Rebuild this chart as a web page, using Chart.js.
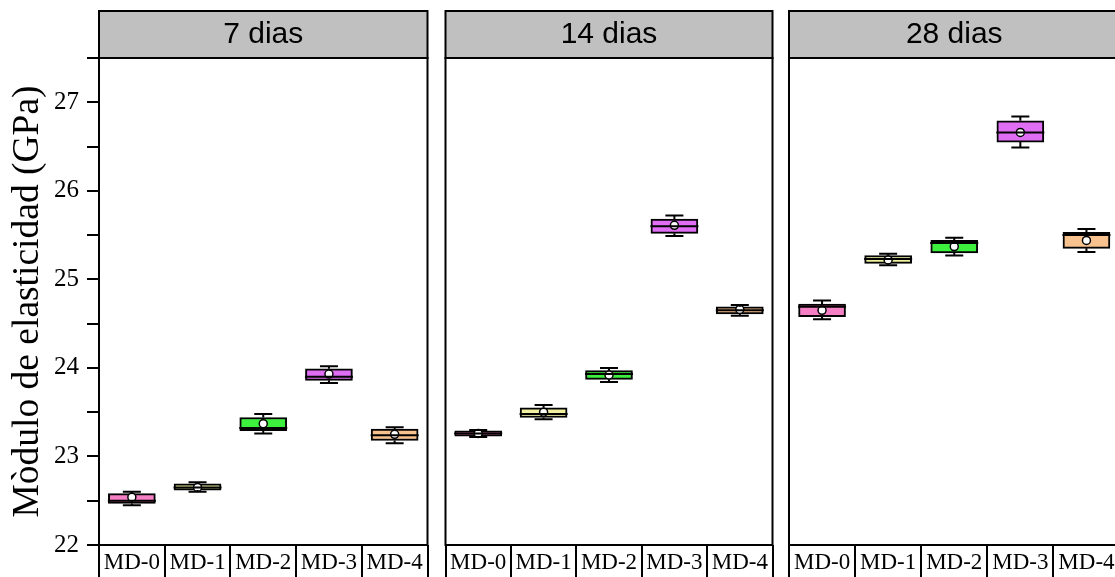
<!DOCTYPE html>
<html>
<head>
<meta charset="utf-8">
<script src="https://cdn.jsdelivr.net/npm/chart.js@4/dist/chart.umd.min.js"></script>
<style>
  html, body { margin: 0; padding: 0; background: #fff; overflow: hidden; width: 1115px; height: 577px; }
  canvas { position: absolute; top: 0; }
</style>
</head>
<body>
<canvas id="c0" width="433" height="577" style="left:0px"></canvas>
<canvas id="c1" width="338" height="577" style="left:440px"></canvas>
<canvas id="c2" width="345" height="577" style="left:780px"></canvas>
<script>
// Mixes and curing ages
const categories = ['MD-0', 'MD-1', 'MD-2', 'MD-3', 'MD-4'];
const panelTitles = ['7 dias', '14 dias', '28 dias'];
const boxColors = ['#f47fc4', '#f0f0a0', '#3ef03e', '#e06ef5', '#f8c28e'];

// Box statistics per age (GPa): one row per age, one value per mix
const whiskerLow = [
  [22.45, 22.60, 23.26, 23.83, 23.15],
  [23.22, 23.42, 23.84, 25.49, 24.59],
  [24.55, 25.16, 25.27, 26.49, 25.31]
];
const quartile1 = [
  [22.47, 22.62, 23.29, 23.86, 23.18],
  [23.23, 23.44, 23.87, 25.52, 24.61],
  [24.58, 25.18, 25.30, 26.55, 25.35]
];
const medians = [
  [22.50, 22.65, 23.32, 23.90, 23.24],
  [23.26, 23.48, 23.93, 25.60, 24.65],
  [24.69, 25.23, 25.41, 26.66, 25.50]
];
const quartile3 = [
  [22.58, 22.69, 23.44, 23.99, 23.31],
  [23.29, 23.55, 23.97, 25.68, 24.69],
  [24.72, 25.27, 25.44, 26.79, 25.53]
];
const whiskerHigh = [
  [22.60, 22.71, 23.48, 24.02, 23.33],
  [23.30, 23.58, 24.00, 25.72, 24.71],
  [24.76, 25.29, 25.47, 26.84, 25.57]
];
const means = [
  [22.54, 22.65, 23.37, 23.93, 23.25],
  [23.26, 23.50, 23.92, 25.61, 24.66],
  [24.65, 25.22, 25.37, 26.66, 25.44]
];

const serif = 'Liberation Serif';
const sans = 'Liberation Sans';
const CAP_HALF = 9;
const BOX_HALF = 24;

// Whiskers, medians, frame and the grey strip with the age title
const boxDecor = {
  id: 'boxDecor',
  afterDatasetsDraw(chart, args, opts) {
    const { ctx, scales: { x, y } } = chart;
    const p = opts.panel;
    ctx.save();
    ctx.strokeStyle = '#000';
    ctx.lineWidth = 2;
    categories.forEach((c, i) => {
      const cx = x.getPixelForValue(i);
      const yLo = y.getPixelForValue(whiskerLow[p][i]);
      const yQ1 = y.getPixelForValue(quartile1[p][i]);
      const yQ3 = y.getPixelForValue(quartile3[p][i]);
      const yHi = y.getPixelForValue(whiskerHigh[p][i]);
      const yMed = y.getPixelForValue(medians[p][i]);
      ctx.beginPath();
      ctx.moveTo(cx, yQ3); ctx.lineTo(cx, yHi);
      ctx.moveTo(cx - CAP_HALF, yHi); ctx.lineTo(cx + CAP_HALF, yHi);
      ctx.moveTo(cx, yQ1); ctx.lineTo(cx, yLo);
      ctx.moveTo(cx - CAP_HALF, yLo); ctx.lineTo(cx + CAP_HALF, yLo);
      ctx.moveTo(cx - BOX_HALF, yMed); ctx.lineTo(cx + BOX_HALF, yMed);
      ctx.stroke();
    });
    ctx.restore();
  },
  afterDraw(chart, args, opts) {
    const { ctx, chartArea: a } = chart;
    ctx.save();
    ctx.strokeStyle = '#000';
    ctx.lineWidth = 2;
    ctx.strokeRect(a.left, a.top, a.right - a.left, a.bottom - a.top);
    ctx.fillStyle = '#c0c0c0';
    ctx.fillRect(a.left, 11, a.right - a.left, a.top - 11);
    ctx.strokeRect(a.left, 11, a.right - a.left, a.top - 11);
    ctx.fillStyle = '#000';
    ctx.font = '30px "' + sans + '"';
    ctx.textAlign = 'center';
    ctx.textBaseline = 'middle';
    ctx.fillText(panelTitles[opts.panel], (a.left + a.right) / 2, 35);
    ctx.restore();
  }
};

function makePanel(p, canvasId, padLeft, padRight) {
  const first = p === 0;
  const yScale = {
    display: first,
    min: 22,
    max: 27.5,
    border: { display: false },
    grid: { drawOnChartArea: false, drawTicks: true, tickLength: 12, color: '#000', lineWidth: 2 },
    ticks: {
      stepSize: 0.5,
      padding: 8,
      color: '#000',
      font: { family: serif, size: 25 },
      callback: (v) => Math.abs(v - Math.round(v)) < 1e-6 ? String(Math.round(v)) : ''
    },
    title: {
      display: true,
      text: 'Mòdulo de elasticidad (GPa)',
      color: '#000',
      font: { family: serif, size: 37.5 },
      padding: { top: 6, bottom: 0 }
    }
  };
  if (first) yScale.afterFit = (s) => { s.width = 99; };
  return new Chart(document.getElementById(canvasId), {
    type: 'bar',
    data: {
      labels: categories,
      datasets: [
        {
          type: 'line',
          data: means[p],
          showLine: false,
          pointRadius: 4,
          pointBorderWidth: 1.5,
          pointBackgroundColor: '#ffffff',
          pointBorderColor: '#000000',
          order: 1
        },
        {
          type: 'bar',
          data: quartile1[p].map((q, i) => [q, quartile3[p][i]]),
          backgroundColor: boxColors,
          borderColor: '#000000',
          borderWidth: 2,
          borderSkipped: false,
          barThickness: 47,
          order: 2
        }
      ]
    },
    options: {
      responsive: false,
      animation: false,
      layout: { padding: { left: padLeft, right: padRight, top: 58, bottom: 0 } },
      plugins: {
        legend: { display: false },
        tooltip: { enabled: false },
        boxDecor: { panel: p }
      },
      scales: {
        x: {
          type: 'category',
          offset: true,
          afterFit(s) { s.height = 32; },
          border: { display: false },
          grid: { offset: true, drawOnChartArea: false, drawTicks: true, tickLength: 32, color: '#000', lineWidth: 2 },
          ticks: { autoSkip: false, maxRotation: 0, padding: -28, color: '#000', font: { family: serif, size: 23 } }
        },
        y: yScale
      }
    },
    plugins: [boxDecor]
  });
}

makePanel(0, 'c0', 0, 0);
makePanel(1, 'c1', 4, 0);
makePanel(2, 'c2', 9, 5);
</script>
</body>
</html>
